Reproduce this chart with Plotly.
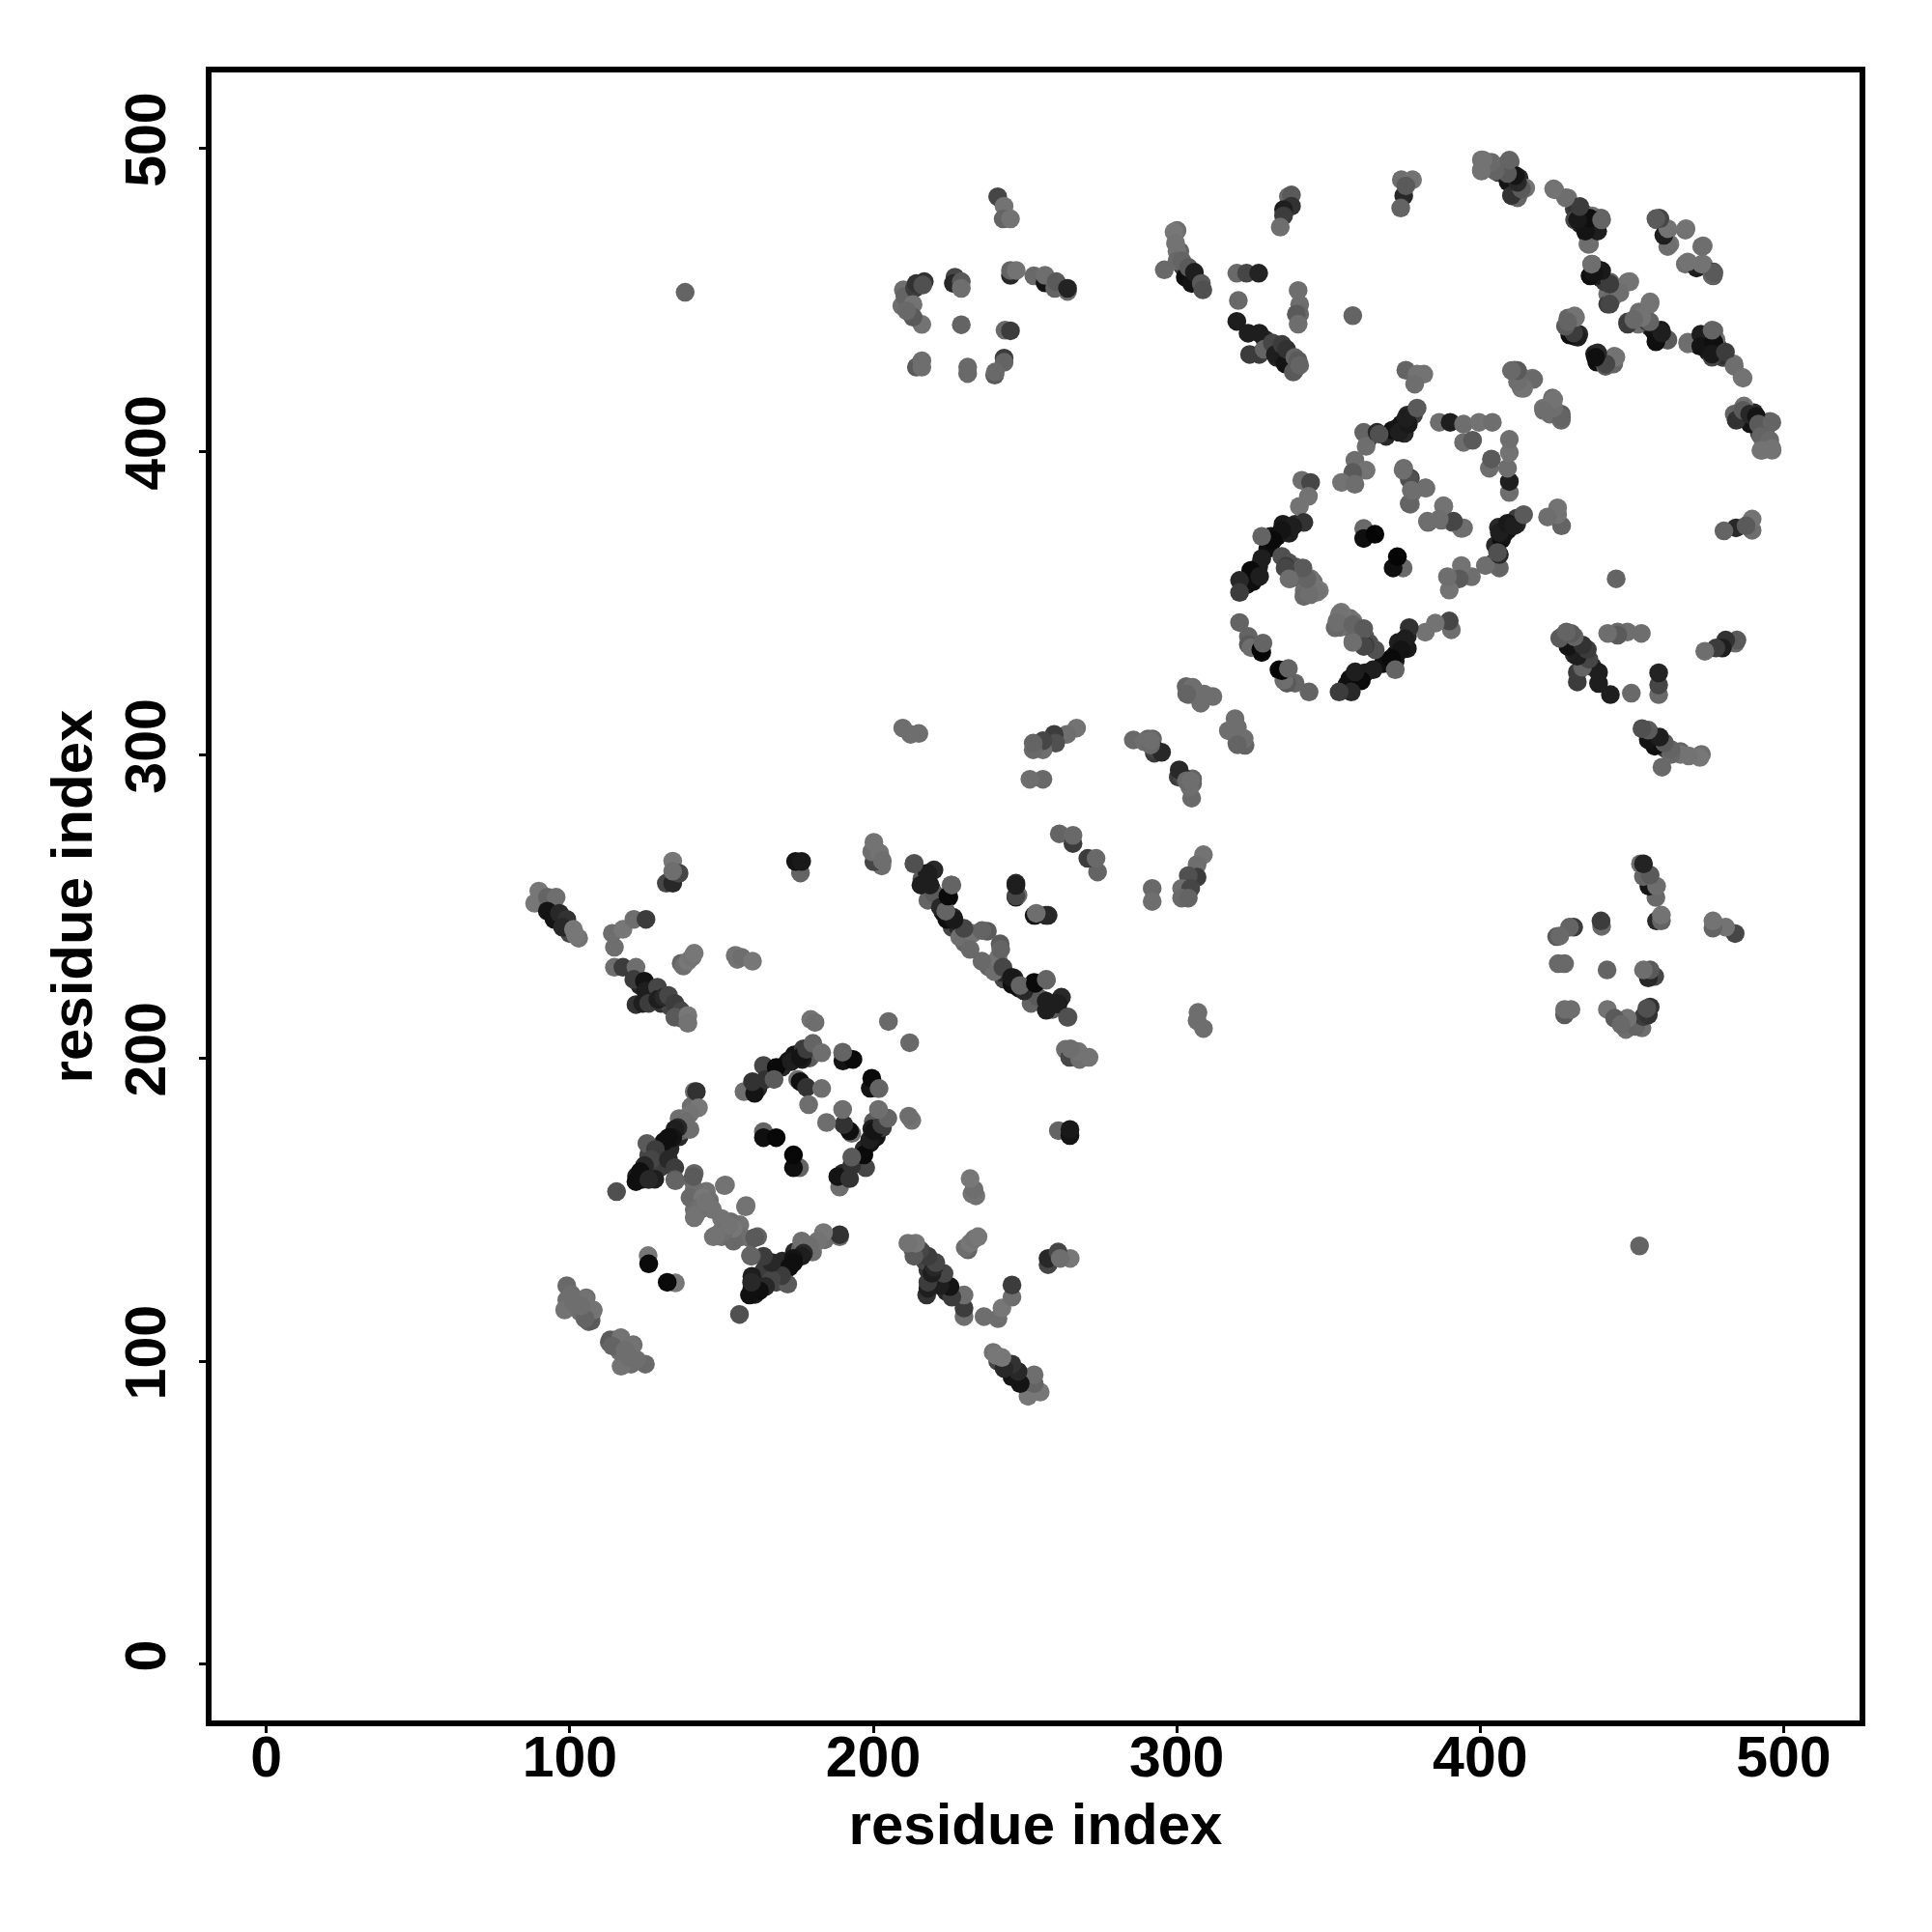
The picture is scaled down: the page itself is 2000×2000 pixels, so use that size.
import plotly.graph_objects as go

# Contact pairs (residue i, residue j, grey level). The map is symmetric; each pair is drawn at (i,j) and (j,i).
fa_i = [93,95,97,99,100,123,127,130,133,135,137,216,219,221,223,226,228,230,220,218,127,129,131,130,133,136,137,136,140,128,124,122,126]
fa_j = [250,248,245,243,241,224,221,218,217,215,213,259,256,252,248,243,243,238,262,252,164,168,170,164,170,174,176,180,184,160,160,161,168]
fa_g = [30,20,30,40,70,40,50,50,70,60,90,90,30,30,20,70,40,100,40,100,40,20,15,60,40,40,100,110,110,30,20,30,70]
fb_i = [162,165,170,172,174,177,179,323,325,327,330,331,333,335,337,339,341,343,345,339,342,363,369,371,374,376,378,375]
fb_j = [190,194,197,199,201,203,200,356,357,362,368,372,372,376,373,376,358,356,357,362,354,404,405,407,409,412,412,406]
fb_g = [40,60,40,20,20,60,90,20,15,30,15,25,15,25,30,40,100,115,110,90,110,50,40,15,20,40,60,40]
fc_i = [329,330,333,336,337,339,301,302,304,306,307,432,433,435,437,438,440,442,452,456,458,474,476,478,479,480,406,411,413,487,489,490,494,143,145,143,146,147,141]
fc_j = [437,434,431,431,429,427,466,461,458,457,456,478,475,472,476,458,457,452,444,441,439,437,434,435,433,431,492,488,488,411,410,412,407,155,156,150,153,150,150]
fc_g = [40,30,40,30,70,100,100,60,30,40,60,40,30,20,40,40,20,110,90,60,30,30,20,40,30,60,60,30,60,30,20,40,100,110,115,110,110,115,110]
a_i = [88.4,89.8,92.6,95.5,92.6,94.8,96.6,99,97.6,101.2,102.9,101.9]
a_j = [251,255,253,253,248.4,245.7,247.7,245.7,243.1,242.4,239.5,240.5]
a_g = [119,119,100,110,20,20,40,50,40,119,115,119]
b_i = [114.7,114,117.5,121.1,125.1]
b_j = [236.5,241.1,242.4,245.7,245.7]
b_g = [110,110,119,110,60]
c_i = [133.9,131.8,133.9,136,133.9]
c_j = [264.9,257.6,257.6,260.9,261.6]
c_g = [119,70,40,70,110]
d_i = [136.7,137.4,138.9,140.3,141]
d_j = [231.2,230.3,231.9,233.2,234.5]
d_g = [100,110,119,115,119]
e_i = [154.5,155.2,156.6,160.2]
e_j = [233.8,232.5,233.2,231.9]
e_g = [115,115,110,119]
f_i = [114.7,117.5,121.8,121.1,124.6,121.8,124,125,126,128.9,129,131,132.5,134.6,136,136.7,134.6,138.9,138.9]
f_j = [229.9,229.9,229.9,225.9,225.3,217.6,218,222,218,223.3,219.3,220,220.6,218,216,215.4,213.4,214,211.4]
f_g = [110,60,110,60,20,50,30,30,60,70,30,40,70,60,60,70,90,119,115]
g_i = [176,174.4,176.4]
g_j = [261,264.8,264.8]
g_g = [100,20,25]
h_i = [157.4,160.9,160.2,163.8,164.5,168,167.3,173,176.6,175.9,178,180.1,183,175.1,175.9,178,183,178.7,179.4,180.8,190,190,193.3,189.9,205]
h_j = [188.9,188.3,192.2,197.5,192.9,196.9,192.9,198.8,199.5,200.2,202.8,204.8,201.7,192.9,192.2,190.3,189.9,184.6,212.7,211.7,201.5,199,199.5,201.9,212]
h_g = [110,20,50,70,50,10,90,30,30,20,60,100,110,110,15,50,110,110,115,110,100,20,10,100,105]
k_i = [163.8,163.8,168,125.8,126]
k_j = [175.7,173.7,173.7,134.8,132.1]
k_g = [100,15,8,119,10]
l_i = [141,141.7,142.4,139.6,138.2,139.6,135.6,134.6,133.9,132.5,131,125.4,128.2,126.8,124.6,123.2,121.8,126,115.4,132.5,134.6,134.6]
l_j = [188.9,188.9,183.6,181.7,179,176.4,177,176.4,173.7,173.7,172.4,171.8,169.8,166.5,164.5,162.5,159.2,159.9,155.9,166.5,163.8,159.9]
l_g = [110,50,119,115,110,110,40,30,20,15,15,90,60,70,40,15,15,40,80,40,60,90]
m_i = [141,140.3,141,139.6,143.8,144.6,142.4,141,150.9,158.1,134.8,141.4,144.7,140.7]
m_j = [161.9,159.9,156.6,153.9,153.9,151.3,150.6,147.3,157.9,151.3,159.5,148.1,152.4,160.9]
m_g = [100,105,110,105,119,115,110,115,115,115,100,115,115,90]
n_i = [99,99,100,100.5,101.2,98.3,105.4,106.2,103.3,107.6,107,104,105,107,107.7,105,105,103.7,101.1]
n_j = [124.9,120.2,118,122,120.9,116.9,120.9,113,116.3,116.9,115,118,116,113.3,116.8,120.4,114,118.2,119.7]
n_g = [105,110,115,110,110,115,110,100,110,115,110,105,110,90,115,115,100,110,110]
o_i = [213.5,215.7,217.8,220,225.6,224.9,222.1,226.3,224.2,228.5,231.9,232.8,237.6,231.9,235.8,229.9,226.6,223.9,224.6,225.9,218.7,218,213.4]
o_j = [264.2,257,260.9,254.3,257,253,249.7,246.4,245.7,239.8,241.1,241.1,241.8,235.8,242,242.7,245.6,248.4,253.4,257,257,260.5,264]
o_g = [100,30,25,90,105,10,40,40,15,110,110,115,90,105,100,70,25,100,10,100,30,30,80]
p_i = [202.8,200.2,199.5,202.1,200.2,203,247,247,247.7,253.4,256.9]
p_j = [263.3,264.7,268,267.6,271.1,265,257.6,253,253.7,247,247]
p_g = [110,70,110,115,115,110,40,20,110,70,30]
q_i = [241,243.1,242.8,245.2,209.9,209.4,210.4,213.6,214.2,216.8,213.1,216.3,216,213.1,211]
q_j = [484,480.9,476.7,476.7,453.3,448,451.2,453.8,455.4,456,448.5,454.9,441.9,444.3,446.4]
q_g = [70,115,100,115,110,110,100,60,50,50,115,80,115,90,105]
r_i = [226.9,226.4,229,229,229,243.4,245.2,214.2,216,216,231.1,231.1,243.1,243.1,240,240.2]
r_j = [457.5,455.4,456,453.8,441.8,440,439.8,427.8,429.9,427.8,425.7,427.8,430.8,429.4,425.2,426.2]
r_g = [70,40,90,110,100,105,60,90,110,110,105,105,60,100,90,105]
s_i = [245.2,245.2,247.1,252.9,256.6,256.6,259.8,260.3,264,264]
s_j = [458.1,459.7,459.7,457.9,455.6,458.1,453.8,456,452.8,453.8]
s_g = [40,100,115,105,20,110,100,90,110,35]
t_i = [300.1,299.1,299.6,300.1,295.9,300.1,301.7,302.8,303.9,304.9,305.8,308.1,308.6]
t_j = [472.9,472.4,468.7,466,459.9,462.9,462.9,457.5,460.7,455.4,459.1,455.4,453.3]
t_g = [110,119,115,115,105,105,100,15,90,20,30,90,80]
u_i = [319.8,323,327,320.3,319.8,323.5,327.2,324,327.2,328.8,331.5,332.5,334.7,335.7,336.2,338.9,338.4,340,340.5]
u_j = [458.8,458.8,458.8,449.8,442.9,439,439,432,432,433.7,435.8,432,435.3,428.9,433.7,431,426.2,430,428.4]
u_g = [105,70,35,105,30,30,30,60,60,100,70,30,60,20,50,100,90,90,100]
v_i = [340,340.5,340.5,339.4,340,336.8,337.8,337.8,335.2,335.2,334.1,358,138]
v_j = [453.1,448.5,445.3,445.3,442,484.1,484.6,480.9,479.8,477.7,474,444.8,452.5]
v_g = [110,110,105,90,110,105,90,50,30,60,110,100,100]
w_i = [374,377.7,374.8,375.5,373.8,400.4,400.4,404,409.9,409.9,409.2,412.8,410.6,412.8,415]
w_j = [489.6,489.6,484.3,487.6,480.3,496.2,492.9,494.2,495.5,490.9,488.9,490.2,484.3,485,486.9]
w_g = [110,115,40,90,100,115,110,100,100,30,20,40,90,105,115]
x_i = [424.5,428.9,431.8,431.1,434,437.7,436.9,439.8,435.5,458.1,458.9,461.8,467.6,462.5,473.5,467.6,471.3,473.5,476.8,476.8]
x_j = [486.3,483.6,480.3,476.4,474.4,473.7,477.7,477,468.4,476.4,477,473,473,468.4,467.8,461.8,460.5,461.8,459.2,457.9]
x_g = [115,115,50,70,30,10,115,100,115,100,90,115,110,115,115,110,30,115,70,90]
y_i = [436.9,436.2,439.1,442.8,448.6,444.2,442,443.5,456,452.3,448.6,455.2,459.6,458.9,461.8,468.4,472.7,472.7,477,476.4,476.4,480.8,483.7,486.6]
y_j = [461.8,457.9,459.8,455.9,455.9,453.2,448.6,450.6,449.3,446,442.7,442.7,440,437.4,436.7,436,438.7,434.7,436,440,432.1,432.8,428.1,424.2]
y_g = [90,15,30,100,115,115,60,105,115,110,70,60,25,20,110,110,30,20,15,100,25,60,110,115]
z_i = [428.9,431.1,428.9,432.5,431.1,437.7,438.4,439.1,444.2,441.3,442.8]
z_j = [444,444.7,441.4,438.7,438,432.1,429.5,430.8,431.4,428.1,428.8]
z_g = [100,115,70,40,15,30,15,60,115,90,100]
aa_i = [483.7,484.4,486.6,488.8,491,491.7,496.1,492.5,495.4,496.1,492.5]
aa_j = [412.3,410.3,413.6,412.3,411.6,409,409.6,405,403.7,401,400.4]
aa_g = [100,50,90,40,20,90,100,100,105,115,115]
ab_i = [361.6,362.4,366,366.7,372.6,373.3,376.3,375.5,379.2]
ab_j = [406.3,401.7,406.3,405.7,407.7,406.3,409,411,414.3]
ab_g = [100,110,40,80,20,30,25,30,90]
ac_i = [386.5,390.1,394.5,399.6,404,394.5,397.5,411.3,414.3,417.2,413.5,423.8,420.8,423,426.7,426.7,375.5,379.2,381.4,378.4]
ac_j = [409.6,409.6,409,409.6,409.6,403,403.7,426.8,424.2,424.2,420.9,417.6,414.3,412.3,412.3,410.3,426.8,425.5,425.5,422.2]
ac_g = [110,30,110,115,110,110,90,100,110,115,110,105,115,110,90,105,100,115,115,110]
ad_i = [358.7,362.4,358,354.3,358.7,374.8,377,382.1,377.7,377,388,390.9,393.8,382.8,387.2,361.6,361.6,365.3]
ad_j = [397.1,393.8,393.1,389.8,389.2,394.5,391.2,387.9,386.5,382.6,381.9,376.6,374.6,376.6,377.3,374.6,371.3,372.7]
ad_g = [110,115,90,115,110,110,70,115,110,110,110,80,110,100,110,105,15,5]
ae_i = [341.2,344.1,343.4,340.4,341.9,338.2,334.6,331.7,328,328,324.4,327.3,320.7,320.7,334.6,336.8,336,341.2,337.5,344.1,347,344.1,341.9]
ae_j = [390.5,389.8,385.2,381.9,376.6,375.3,374,370.7,372,364.7,360.8,358.8,357.5,353.5,365.4,363.4,362.1,361.4,358.1,358.1,354.2,352.8,352.2]
ae_g = [110,70,115,115,50,30,20,10,100,30,10,30,40,60,80,80,60,100,100,115,119,110,105]
af_i = [346.2,343.6,342.9,341.6,335.7,337,320.7,323.6,323.6,328,328,324.5,327.7,328.4]
af_j = [353.6,352.9,358,361.6,361.6,358,343.6,339,336.3,336.3,333.7,335.3,334.6,336.8]
af_g = [115,110,100,90,70,110,100,100,90,90,10,110,5,100]
ag_i = [303.1,303.9,305,307.5,309,311.9,307.9,305.3,303.3]
ag_j = [322.5,319.8,322,318.5,320,319.2,317,322.2,320]
ag_g = [100,105,110,110,110,110,110,110,100]
ah_i = [267,263.8,259.6,260.1,255.9,255.9,252.7,252.7,255.9,251.6,261.3,265.8,265.8,215,212.3,209.7]
ah_j = [308.8,306.7,306.7,303.8,301.6,304.6,301.6,303.8,291.9,291.9,273.9,270.7,273.4,307,306.7,308.8]
ah_g = [115,110,60,80,110,70,105,100,105,110,100,60,105,110,110,110]
ai_i = [285.7,290.5,292,292.6,292.6,295,289.3,291.4,291.4]
ai_j = [304.9,305.2,305.2,300.5,302,300.8,304.3,303.2,304.6]
ai_g = [105,100,100,60,70,40,110,105,110]

clusters = [(fa_i,fa_j,fa_g),(fb_i,fb_j,fb_g),(fc_i,fc_j,fc_g),
            (a_i,a_j,a_g),(b_i,b_j,b_g),(c_i,c_j,c_g),(d_i,d_j,d_g),(e_i,e_j,e_g),(f_i,f_j,f_g),
            (g_i,g_j,g_g),(h_i,h_j,h_g),(k_i,k_j,k_g),(l_i,l_j,l_g),(m_i,m_j,m_g),(n_i,n_j,n_g),
            (o_i,o_j,o_g),(p_i,p_j,p_g),(q_i,q_j,q_g),(r_i,r_j,r_g),(s_i,s_j,s_g),(t_i,t_j,t_g),
            (u_i,u_j,u_g),(v_i,v_j,v_g),(w_i,w_j,w_g),(x_i,x_j,x_g),(y_i,y_j,y_g),(z_i,z_j,z_g),
            (aa_i,aa_j,aa_g),(ab_i,ab_j,ab_g),(ac_i,ac_j,ac_g),(ad_i,ad_j,ad_g),(ae_i,ae_j,ae_g),
            (af_i,af_j,af_g),(ag_i,ag_j,ag_g),(ah_i,ah_j,ah_g),(ai_i,ai_j,ai_g)]

xs, ys, cols = [], [], []
for ci, cj, cg in clusters:
    xs += ci + cj
    ys += cj + ci
    cols += [f"rgb({g},{g},{g})" for g in cg + cg]

ticks = [0, 100, 200, 300, 400, 500]
W = H = 2000
FONT = "Liberation Sans"

fig = go.Figure(go.Scatter(x=xs, y=ys, mode="markers",
                           marker=dict(size=19.5, color=cols, line=dict(width=0)), hoverinfo="skip"))
axis = dict(tickmode="array", tickvals=ticks, ticktext=[str(t) for t in ticks], ticks="outside",
            ticklen=7, tickwidth=3, tickcolor="black", showline=True, linewidth=5.5, linecolor="black",
            mirror=True, showgrid=False, zeroline=False, automargin=False,
            tickfont=dict(family=FONT, size=59, color="black", weight="bold"))
fig.update_xaxes(range=[-18.06, 525], ticklabelstandoff=-26, title=dict(text="residue index", standoff=18,
                 font=dict(family=FONT, size=60, color="black", weight="bold")), **axis)
fig.update_yaxes(range=[-18.5, 525], tickangle=-90, ticklabelstandoff=12, title=dict(text="residue index", standoff=5,
                 font=dict(family=FONT, size=60, color="black", weight="bold")), **axis)
fig.update_layout(width=W, height=H, autosize=False, plot_bgcolor="white", paper_bgcolor="white",
                  showlegend=False, margin=dict(l=211, r=2000-1917, t=67, b=2000-1773, pad=0))
fig.write_html("out.html")
